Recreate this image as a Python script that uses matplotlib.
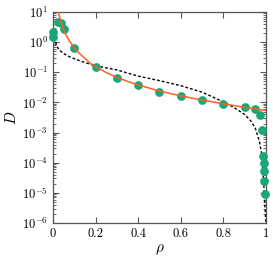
import matplotlib
matplotlib.use("Agg")
from matplotlib import pyplot as plt
from matplotlib.ticker import LogLocator, NullFormatter
import numpy as np

plt.rcParams['font.family'] = 'serif'
plt.rcParams['font.serif'] = ['cmr10']
plt.rcParams['mathtext.fontset'] = 'cm'
plt.rcParams['axes.formatter.use_mathtext'] = True
plt.rcParams['axes.unicode_minus'] = False

# measured points
rho_pts = [0.0, 0.0, 0.025, 0.04, 0.05, 0.1, 0.2, 0.3, 0.4, 0.5, 0.6, 0.7, 0.8, 0.9, 0.95, 0.97,
           0.98, 0.987, 0.989, 0.99, 0.992, 0.995]
D_pts = [1.5, 2.2, 4.7, 4.2, 2.7, 0.65, 0.15, 0.066, 0.039, 0.022, 0.016, 0.0117, 0.0086, 0.0069,
         0.0061, 0.0039, 0.0012, 1.7e-4, 9.5e-5, 5.4e-5, 2.5e-5, 9e-6]

# fit (orange)
rho_fit = [0.023, 0.03, 0.04, 0.05, 0.06, 0.08, 0.1, 0.125, 0.15, 0.175, 0.2, 0.25, 0.3, 0.35,
           0.4, 0.5, 0.6, 0.7, 0.8, 0.9, 1.0]
D_fit = [12, 7.2, 4.1, 2.6, 1.8, 1.02, 0.65, 0.42, 0.29, 0.2, 0.155, 0.098, 0.068, 0.05,
         0.038, 0.024, 0.0165, 0.012, 0.009, 0.0069, 0.0054]

# theory (dashed)
rho_th = [0.012, 0.02, 0.03, 0.05, 0.08, 0.12, 0.18, 0.25, 0.3, 0.4, 0.5, 0.6, 0.7, 0.8, 0.85,
          0.9, 0.93, 0.95, 0.97, 0.98, 0.99, 0.995, 1.0]
D_th = [1.0, 0.7, 0.55, 0.42, 0.32, 0.25, 0.18, 0.14, 0.12, 0.075, 0.053, 0.036, 0.022, 0.0105,
        0.0068, 0.004, 0.0024, 0.0014, 5e-4, 2e-4, 2e-5, 4e-6, 1e-6]

fig = plt.figure(figsize=(2.73, 2.62), dpi=100)
ax = fig.add_axes([0.194, 0.149, 0.780, 0.805])

ax.plot(rho_th, D_th, color='black', ls=(0, (2, 1.5)), lw=1.0, zorder=2)
ax.plot(rho_pts, D_pts, 'o', color='#19a779', ms=6.3, mew=0, zorder=3, clip_on=False)
ax.plot(rho_fit, D_fit, color='#fa5f28', lw=1.1, zorder=4)

ax.set_yscale('log')
ax.set_xlim(0, 1)
ax.set_ylim(1e-6, 1e1)
ax.set_xticks([0, 0.2, 0.4, 0.6, 0.8, 1])
ax.set_xticklabels(['0', '0.2', '0.4', '0.6', '0.8', '1'])
ax.yaxis.set_major_locator(LogLocator(base=10, numticks=20))
ax.yaxis.set_minor_locator(LogLocator(base=10, subs=np.arange(2, 10), numticks=20))
ax.yaxis.set_minor_formatter(NullFormatter())
ax.tick_params(which='both', direction='in', top=True, right=True, labelsize=9, color='#555555')
ax.tick_params(which='major', length=4, width=0.8)
ax.tick_params(which='minor', length=2, width=0.6)
for s in ax.spines.values():
    s.set_color('#555555')
    s.set_linewidth(0.9)

ax.set_xlabel(r'$\rho$', fontsize=11, labelpad=2)
ax.set_ylabel(r'$D$', fontsize=11, labelpad=2)

fig.savefig('out.png', dpi=100)
